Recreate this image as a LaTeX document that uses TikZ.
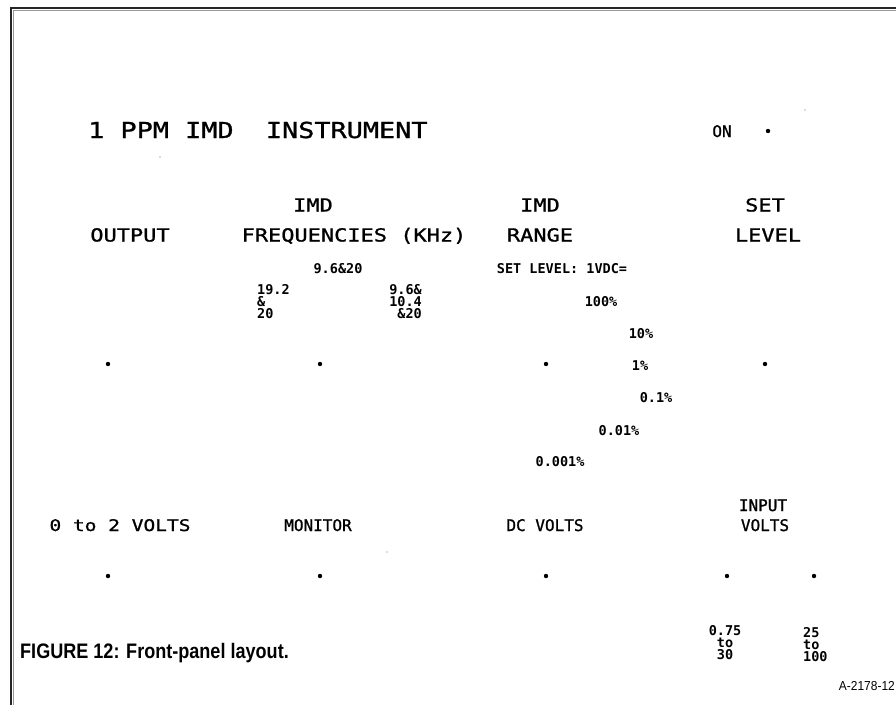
\documentclass[tikz,border=0pt]{standalone}
\usepackage{fontspec}
\newfontfamily\panelwide[FakeStretch=1.22,FakeBold=1.2]{DejaVu Sans Mono}
\newfontfamily\panelmono[FakeBold=1.2]{DejaVu Sans Mono}
\newfontfamily\panelbold{DejaVu Sans Mono Bold}
\newfontfamily\captionfont[FakeStretch=0.86]{Liberation Sans Bold}
\newfontfamily\tagfont[FakeStretch=0.92]{Liberation Sans}
\usetikzlibrary{positioning}

\begin{document}
\begin{tikzpicture}[
      x=1pt, y=-1pt,
      title/.style={font=\panelwide\fontsize{22}{24}\selectfont, inner sep=0pt},
      header/.style={font=\panelwide\fontsize{18}{20}\selectfont, inner sep=0pt},
      legend/.style={font=\panelmono\fontsize{16}{18}\selectfont, inner sep=0pt},
      setting/.style={font=\panelbold\fontsize{13.5}{12}\selectfont, inner sep=0pt},
      jack/.style={circle, fill=black, inner sep=0pt, minimum size=4.4pt},
      speck/.style={circle, fill=black!60, inner sep=0pt, minimum size=1.4pt},
      frame/.style={draw=black!85, line width=1.5pt},
      shadow/.style={draw=black!40, line width=0.8pt}
    ]
    \useasboundingbox (0,0) rectangle (896,705);

    % panel border (top and left edge only)
    \draw[frame] (11,705) -- (11,8) -- (896,8);
    \draw[shadow] (13.2,705) -- (13.2,10.2) -- (896,10.2);

    % heading line
    \node[title, anchor=base west] (name) at (88,138) {1 PPM IMD~~INSTRUMENT};
    \node[legend, anchor=base] (on) at (722,137) {ON};
    \node[jack] (onjack) at (768,131) {};

    % control headings
    \node[header, anchor=base] (imdf) at (313,211.5) {IMD};
    \node[header, anchor=base] (imdr) at (540,211.5) {IMD};
    \node[header, anchor=base] (set) at (765,211.5) {SET};
    \node[header, anchor=base] (output) at (130,241.5) {OUTPUT};
    \node[header, anchor=base] (freq) at (354,241.5) {FREQUENCIES (KHz)};
    \node[header, anchor=base] (range) at (540,241.5) {RANGE};
    \node[header, anchor=base] (level) at (768,241.5) {LEVEL};

    % frequency selector positions
    \node[setting, anchor=base] (fmid) at (338,273) {9.6\&20};
    \node[setting, anchor=north west, align=left] (fleft) at (257,284) {19.2\\\&\\20};
    \node[setting, anchor=north east, align=right] (fright) at (422,284) {9.6\&\\10.4\\\&20};

    % range selector positions
    \node[setting, anchor=base] (setlvl) at (562,273) {SET LEVEL: 1VDC=};
    \node[setting, anchor=base] (r100) at (601,306) {100\%};
    \node[setting, anchor=base] (r10) at (641,338) {10\%};
    \node[setting, anchor=base] (r1) at (640,370) {1\%};
    \node[setting, anchor=base] (r01) at (656,402) {0.1\%};
    \node[setting, anchor=base] (r001) at (619,435) {0.01\%};
    \node[setting, anchor=base] (r0001) at (560,466) {0.001\%};

    % upper row of controls
    \node[jack] (outjack) at (108,364) {};
    \node[jack] (freqjack) at (320,364) {};
    \node[jack] (rangejack) at (546,364) {};
    \node[jack] (leveljack) at (765,364) {};

    % lower row labels
    \node[legend, font=\panelwide\fontsize{16}{18}\selectfont, anchor=base]
      (volts) at (120,531) {0 to 2 VOLTS};
    \node[legend, anchor=base] (monitor) at (318,531) {MONITOR};
    \node[legend, anchor=base] (dcvolts) at (545,531) {DC VOLTS};
    \node[legend, anchor=base] (input) at (763,511) {INPUT};
    \node[legend, anchor=base] (involts) at (765,531) {VOLTS};

    % lower row of jacks
    \node[jack] (voltsjack) at (108,576) {};
    \node[jack] (monjack) at (320,576) {};
    \node[jack] (dcjack) at (546,576) {};
    \node[jack] (lowjack) at (727,576) {};
    \node[jack] (highjack) at (814,576) {};
    \node[setting, anchor=north, align=center] (lowrange) at (725,625) {0.75\\to\\30};
    \node[setting, anchor=north west, align=left] (highrange) at (803,627) {25\\to\\100};

    % scan specks
    \node[speck] (s1) at (805,110) {};
    \node[speck] (s2) at (160,157) {};
    \node[speck] (s3) at (387,552) {};

    % caption and drawing number
    \node[font=\captionfont\fontsize{21}{23}\selectfont, inner sep=0pt,
      anchor=base west] (caption) at (20,658) {FIGURE 12: Front-panel layout.};
    \node[font=\tagfont\fontsize{13}{15}\selectfont, inner sep=0pt,
      anchor=base east] (drawno) at (895,690) {A-2178-12};
  \end{tikzpicture}
\end{document}
